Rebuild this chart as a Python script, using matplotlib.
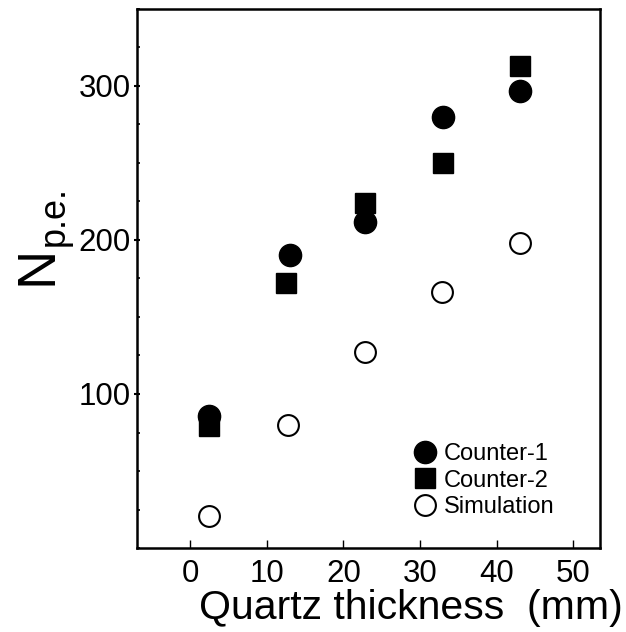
import matplotlib
matplotlib.use("Agg")
import matplotlib.pyplot as plt
from matplotlib.ticker import MultipleLocator

plt.rcParams['font.family'] = ['Liberation Sans', 'DejaVu Sans']

# data
counter1_x = [2.5, 13.0, 22.8, 33.0, 43.0]
counter1_y = [86, 190, 212, 280, 297]
counter2_x = [2.5, 12.5, 22.8, 33.0, 43.0]
counter2_y = [79, 172, 224, 250, 313]
sim_x = [2.5, 12.7, 22.8, 32.8, 43.0]
sim_y = [21, 80, 127, 166, 198]

fig = plt.figure(figsize=(6.26, 6.32), dpi=100)
ax = fig.add_axes([0.2184, 0.1329, 0.7401, 0.8529])

ax.plot(counter1_x, counter1_y, 'o', color='black', markersize=16, linestyle='none', label='Counter-1')
ax.plot(counter2_x, counter2_y, 's', color='black', markersize=15, linestyle='none', label='Counter-2')
ax.plot(sim_x, sim_y, 'o', markerfacecolor='white', markeredgecolor='black', markeredgewidth=1.5,
        markersize=15, linestyle='none', label='Simulation')

ax.set_xlim(-7, 53.5)
ax.set_ylim(0, 350)
ax.set_xticks([0, 10, 20, 30, 40, 50])
ax.set_yticks([100, 200, 300])
ax.yaxis.set_minor_locator(MultipleLocator(25))

for s in ax.spines.values():
    s.set_linewidth(1.8)

ax.tick_params(axis='x', direction='in', length=6, width=1, labelsize=22.5, pad=8)
ax.tick_params(axis='y', which='major', direction='inout', length=5, width=1.5, labelsize=22.5, pad=2)
ax.tick_params(axis='y', which='minor', direction='in', length=2, width=1.2)

fig.text(411 / 626, 1 - 608 / 632, 'Quartz thickness  (mm)', fontsize=29.5, ha='center', va='center')
# y label: big N with a smaller "p.e." subscript, both rotated
fig.text(38 / 626, 1 - 265 / 632, 'N', fontsize=39, rotation=90, ha='center', va='center')
fig.text(54 / 626, 1 - 216 / 632, 'p.e.', fontsize=26, rotation=90, ha='center', va='center')

ax.legend(loc='upper left', bbox_to_anchor=(0.596, 0.195), frameon=False, fontsize=17,
          handlelength=1, handletextpad=0.3, borderpad=0, borderaxespad=0, labelspacing=0.2)

fig.savefig('out.png', dpi=100)
